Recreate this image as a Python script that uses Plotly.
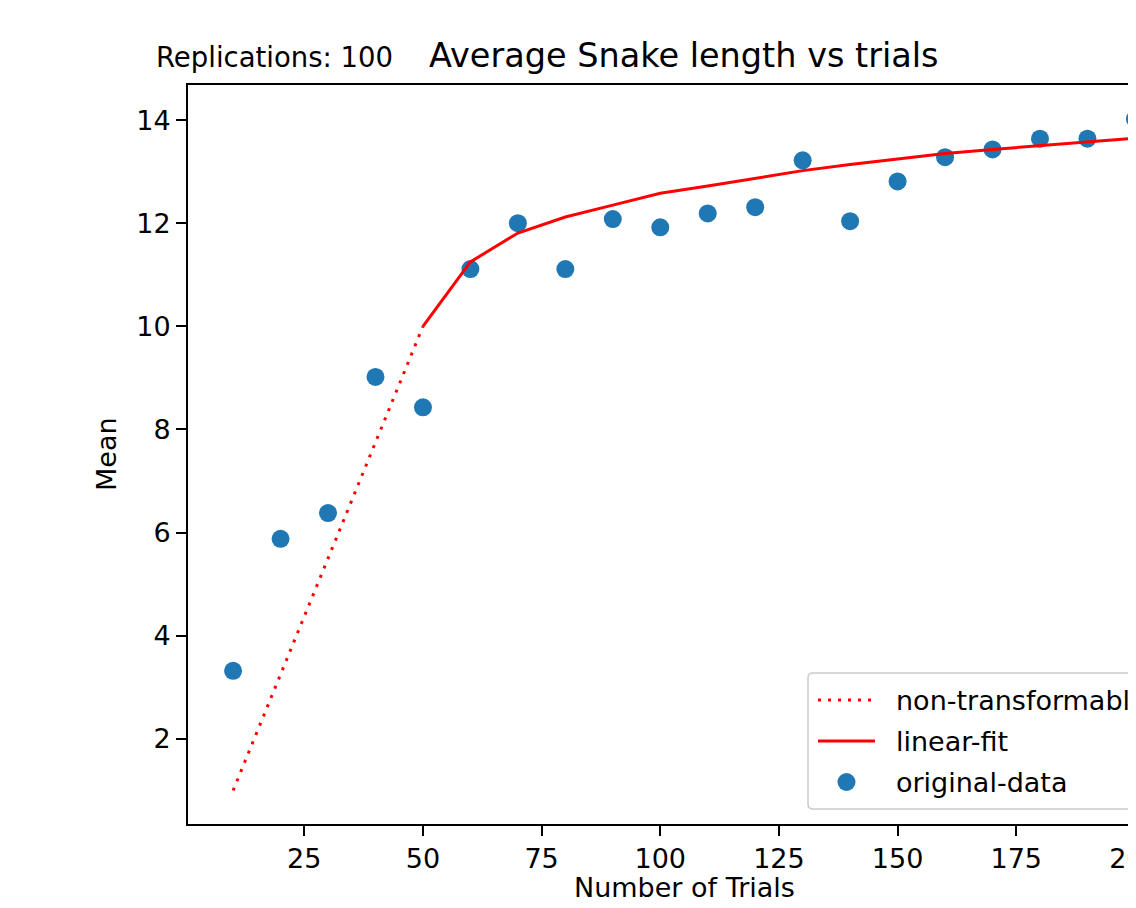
import plotly.graph_objects as go

# ---- data ----
trials = [10, 20, 30, 40, 50, 60, 70, 80, 90, 100,
          110, 120, 130, 140, 150, 160, 170, 180, 190, 200]
mean_len = [3.32, 5.88, 6.38, 9.02, 8.43, 11.11, 12.00, 11.11, 12.08, 11.92,
            12.19, 12.31, 13.22, 12.04, 12.81, 13.28, 13.43, 13.64, 13.64, 14.02]

nontrans_x = [10, 50]
nontrans_y = [1.0, 10.0]

fit_x = [50, 60, 70, 80, 90, 100, 110, 120, 130, 140, 150, 160, 170, 180, 190, 200]
fit_y = [10.0, 11.25, 11.81, 12.12, 12.35, 12.58, 12.72, 12.87, 13.02, 13.14,
         13.25, 13.35, 13.43, 13.50, 13.57, 13.65]

x_ticks = [25, 50, 75, 100, 125, 150, 175, 200]
y_ticks = [2, 4, 6, 8, 10, 12, 14]

legend_labels = ["non-transformable", "linear-fit", "original-data"]

FONT = "DejaVu Sans"
W, H = 1128, 892
ML, MT, MR, MB = 180, 77, 0, 76
PW, PH = W - ML - MR, H - MT - MB
BLUE = "#1f77b4"


def px(fx):
    """figure pixel x -> paper x"""
    return (fx - ML) / PW


def py(fy):
    """figure pixel y -> paper y"""
    return (H - MB - fy) / PH


fig = go.Figure()

fig.add_trace(go.Scatter(
    x=trials, y=mean_len, mode="markers", name=legend_labels[2],
    marker=dict(color=BLUE, size=18, line=dict(width=0)),
))
fig.add_trace(go.Scatter(
    x=nontrans_x, y=nontrans_y, mode="lines", name=legend_labels[0],
    line=dict(color="red", width=3, dash="3px,7px"),
))
fig.add_trace(go.Scatter(
    x=fit_x, y=fit_y, mode="lines", name=legend_labels[1],
    line=dict(color="red", width=3),
))

axis_common = dict(
    showgrid=False, zeroline=False, showline=True, linecolor="black", linewidth=2,
    ticks="outside", ticklen=10, tickwidth=2, tickcolor="black",
    tickfont=dict(family=FONT, size=27, color="black"),
    automargin=False, ticklabeloverflow="allow",
)

# ---- hand-built legend (the reference legend is cut by the right edge) ----
lx0, ly0, ly1 = 800, 665, 801      # figure px of legend box
r = 5
x0, x1 = px(lx0), px(lx0 + r)
xr = 1.3
yt, yb = py(ly0), py(ly1)
yt_r, yb_r = py(ly0 + r), py(ly1 - r)
box_path = (f"M {xr} {yt} L {x1} {yt} Q {x0} {yt} {x0} {yt_r} "
            f"L {x0} {yb_r} Q {x0} {yb} {x1} {yb} L {xr} {yb} Z")

row_y = [692, 733, 774]
sample_x0, sample_x1 = 810, 867
text_x = 886

shapes = [
    dict(type="path", path=box_path, xref="paper", yref="paper",
         fillcolor="rgba(255,255,255,0.8)", line=dict(color="#cccccc", width=1.5),
         layer="above"),
    dict(type="line", xref="paper", yref="paper",
         x0=px(sample_x0), x1=px(sample_x1), y0=py(row_y[0]), y1=py(row_y[0]),
         line=dict(color="red", width=3, dash="3px,7px"), layer="above"),
    dict(type="line", xref="paper", yref="paper",
         x0=px(sample_x0), x1=px(sample_x1), y0=py(row_y[1]), y1=py(row_y[1]),
         line=dict(color="red", width=3), layer="above"),
    dict(type="circle", xref="paper", yref="paper",
         x0=px(838.5 - 9), x1=px(838.5 + 9), y0=py(row_y[2] - 9), y1=py(row_y[2] + 9),
         fillcolor=BLUE, line=dict(width=0), layer="above"),
]

annotations = [
    dict(text="Average Snake length vs trials", xref="paper", yref="paper",
         x=px(676), y=1, xanchor="center", yanchor="bottom", yshift=8,
         showarrow=False, font=dict(family=FONT, size=33.5, color="black")),
    dict(text="Replications: 100", xref="paper", yref="paper",
         x=px(146), y=1, xanchor="left", yanchor="bottom", yshift=10,
         showarrow=False, font=dict(family=FONT, size=27.5, color="black")),
    dict(text="Number of Trials", xref="paper", yref="paper",
         x=px(676), y=0, xanchor="center", yanchor="top", yshift=-46,
         showarrow=False, font=dict(family=FONT, size=27, color="black")),
    dict(text="Mean", xref="paper", yref="paper", textangle=-90,
         x=0, y=0.5, xanchor="right", yanchor="middle", xshift=-64,
         showarrow=False, font=dict(family=FONT, size=27, color="black")),
]
for lbl, ry in zip(legend_labels, row_y):
    annotations.append(dict(
        text=lbl, xref="paper", yref="paper", x=px(text_x), y=py(ry),
        xanchor="left", yanchor="middle", showarrow=False,
        font=dict(family=FONT, size=27, color="black")))

fig.update_layout(
    width=W, height=H,
    margin=dict(l=ML, r=MR, t=MT, b=MB, autoexpand=False),
    paper_bgcolor="white", plot_bgcolor="white",
    font=dict(family=FONT, size=27, color="black"),
    xaxis=dict(range=[0.5, 0.5 + PW * 209.0 / 992.0], tickvals=x_ticks, mirror=True,
               **axis_common),
    yaxis=dict(range=[0.35, 14.68], tickvals=y_ticks, mirror=False, **axis_common),
    showlegend=False,
    shapes=shapes,
    annotations=annotations,
)

fig.write_html("out.html")
